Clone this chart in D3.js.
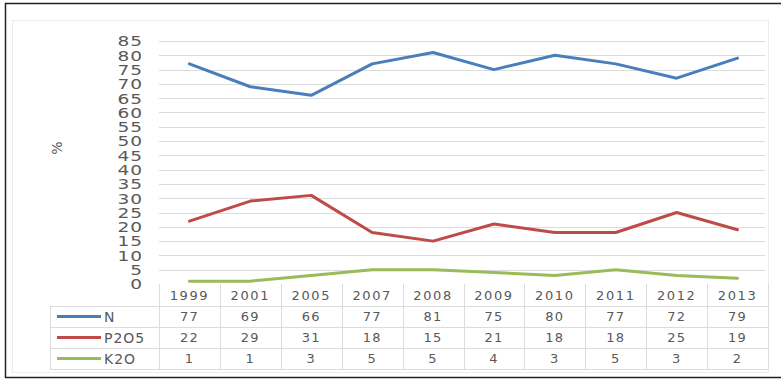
<!DOCTYPE html>
<html><head><meta charset="utf-8">
<script src="https://cdn.jsdelivr.net/npm/d3@7/dist/d3.min.js"></script>
<style>
html,body{margin:0;padding:0;background:#fff;}
svg{display:block;}
text{font-family:"DejaVu Sans",Verdana,sans-serif;fill:#595959;}
</style></head>
<body>
<svg id="c" width="781" height="381"></svg>
<script>
const years = ["1999","2001","2005","2007","2008","2009","2010","2011","2012","2013"];
const seriesNames = ["N","P2O5","K2O"];
const nValues = [77,69,66,77,81,75,80,77,72,79];
const p2o5Values = [22,29,31,18,15,21,18,18,25,19];
const k2oValues = [1,1,3,5,5,4,3,5,3,2];
const yTicks = [0,5,10,15,20,25,30,35,40,45,50,55,60,65,70,75,80,85];
const colors = ["#4a7ebb","#be4b48","#9bbb59"];
const series = [nValues, p2o5Values, k2oValues];

const svg = d3.select("#c");
// outer frame
svg.append("rect").attr("x",5.5).attr("y",3.5).attr("width",790).attr("height",374)
  .attr("fill","none").attr("stroke","#222").attr("stroke-width",1.5);
// chart area
svg.append("rect").attr("x",12.5).attr("y",20.5).attr("width",756).attr("height",352)
  .attr("fill","none").attr("stroke","#ececec").attr("stroke-width",1);

const x = d3.scaleBand().domain(years).range([159,768]);
const y = d3.scaleLinear().domain([0,85]).range([284,41]);

// gridlines
svg.append("g").selectAll("line").data(yTicks.filter(d=>d>0)).join("line")
  .attr("x1",159).attr("x2",765)
  .attr("y1",d=>Math.round(y(d))+0.5).attr("y2",d=>Math.round(y(d))+0.5)
  .attr("stroke","#dcdcdc").attr("stroke-width",1);

// y axis labels
const yAxis = d3.axisLeft(y).tickValues(yTicks).tickSize(0).tickPadding(0);
const ga = svg.append("g").attr("transform","translate(143,0)").call(yAxis);
ga.select(".domain").remove();
ga.selectAll("text").attr("font-size",12).attr("letter-spacing","0.6px")
  .style("font-family","'DejaVu Sans',sans-serif").attr("fill","#595959").attr("dy","0.36em")
  .attr("transform","scale(1.55,1.12)");

// y title
svg.append("text").attr("transform","translate(62,148) rotate(-90)")
  .attr("text-anchor","middle").attr("font-size",14).text("%");

// table
const rowTop = [284,306,327,348];
const rowBottom = 369;
const tg = svg.append("g");
const bounds = years.map(d=>x(d)).concat([x.range()[1]]);
bounds.forEach(b=>{
  tg.append("line").attr("x1",Math.round(b)+0.5).attr("x2",Math.round(b)+0.5)
    .attr("y1",284).attr("y2",rowBottom).attr("stroke","#dcdcdc");
});
[306,327,348,369].forEach(r=>{
  tg.append("line").attr("x1",50).attr("x2",768).attr("y1",r+0.5).attr("y2",r+0.5).attr("stroke","#dcdcdc");
});
tg.append("line").attr("x1",50.5).attr("x2",50.5).attr("y1",306).attr("y2",rowBottom).attr("stroke","#dcdcdc");

// year labels
const xAxis = d3.axisBottom(x).tickSize(0).tickPadding(0);
const gx = svg.append("g").attr("transform","translate(0,295)").call(xAxis);
gx.select(".domain").remove();
gx.selectAll("text").attr("font-size",13).attr("letter-spacing","1.6px")
  .attr("dy","0.36em").attr("fill","#595959").style("font-family","'DejaVu Sans',sans-serif");

// rows
series.forEach((vals,i)=>{
  const cy = (rowTop[i+1] + (i<2?rowTop[i+2]:rowBottom))/2;
  tg.append("line").attr("x1",57).attr("x2",101).attr("y1",cy).attr("y2",cy)
    .attr("stroke",colors[i]).attr("stroke-width",3);
  tg.append("text").attr("x",104).attr("y",cy).attr("dy","0.36em")
    .attr("font-size",14).attr("letter-spacing","1px").text(seriesNames[i]);
  tg.selectAll(null).data(vals).join("text")
    .attr("x",(d,j)=>x(years[j])+x.bandwidth()/2).attr("y",cy).attr("dy","0.36em")
    .attr("text-anchor","middle").attr("font-size",13).attr("letter-spacing","1.2px").text(d=>d);
});

// lines
const line = d3.line().x((d,j)=>x(years[j])+x.bandwidth()/2).y(d=>y(d));
series.forEach((vals,i)=>{
  svg.append("path").datum(vals).attr("d",line).attr("fill","none")
    .attr("stroke",colors[i]).attr("stroke-width",3).attr("stroke-linejoin","round").attr("stroke-linecap","round");
});
</script>
</body></html>
